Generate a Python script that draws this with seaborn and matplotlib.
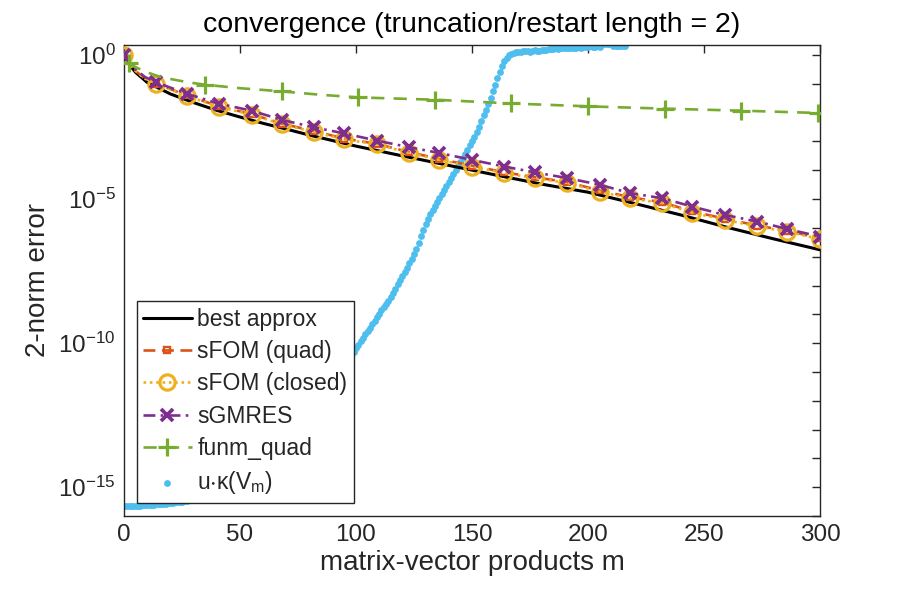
import numpy as np
import pandas as pd
import matplotlib
matplotlib.use("Agg")
import matplotlib.pyplot as plt
import seaborn as sns
from matplotlib.ticker import FixedLocator, FuncFormatter, NullLocator

# ---------------- data (log10 of error) ----------------
best_m = [0, 2, 5, 10, 15, 20, 30, 40, 50, 60, 70, 80, 90, 100, 120, 140, 160,
          180, 200, 220, 240, 260, 280, 300]
best_log = [0.0, -0.3, -0.6, -0.95, -1.15, -1.35, -1.65, -1.92, -2.15, -2.37,
            -2.57, -2.78, -2.97, -3.16, -3.50, -3.83, -4.16, -4.48, -4.76,
            -5.15, -5.55, -5.98, -6.38, -6.76]

sfom_m = [0, 2, 5, 9, 14, 27, 41, 55, 68, 82, 95, 109, 123, 136, 150, 164, 177,
          191, 205, 218, 232, 245, 259, 273, 286, 300]
sfom_closed_log = [0.0, -0.28, -0.55, -0.82, -1.00, -1.42, -1.80, -2.07, -2.40,
                   -2.67, -2.93, -3.10, -3.40, -3.64, -3.87, -4.10, -4.27, -4.44,
                   -4.74, -4.97, -5.14, -5.47, -5.72, -5.95, -6.13, -6.39]
sfom_quad_log = [0.0, -0.28, -0.55, -0.82, -0.99, -1.40, -1.78, -2.05, -2.38,
                 -2.64, -2.90, -3.08, -3.37, -3.61, -3.84, -4.07, -4.24, -4.41,
                 -4.70, -4.93, -5.11, -5.43, -5.68, -5.92, -6.10, -6.36]
sgmres_log = [0.0, -0.25, -0.50, -0.76, -0.95, -1.34, -1.69, -1.93, -2.25,
              -2.51, -2.72, -2.97, -3.20, -3.40, -3.64, -3.87, -4.07, -4.27,
              -4.50, -4.79, -4.97, -5.26, -5.55, -5.78, -6.04, -6.30]

funm_m = [2, 5, 10, 15, 20, 28, 35, 50, 68, 85, 101, 134, 167, 200, 233, 266, 299]
funm_log = [-0.28, -0.42, -0.60, -0.74, -0.83, -0.95, -1.03, -1.15, -1.26, -1.38,
            -1.47, -1.55, -1.68, -1.78, -1.86, -1.93, -2.01]

kappa_log = [
    -15.66, -15.66, -15.65, -15.65, -15.65, -15.64, -15.64, -15.64, -15.63, -15.63,
    -15.62, -15.62, -15.61, -15.61, -15.60, -15.59, -15.59, -15.58, -15.57, -15.56,
    -15.55, -15.54, -15.53, -15.52, -15.51, -15.50, -15.48, -15.47, -15.45, -15.44,
    -15.42, -15.40, -15.38, -15.36, -15.34, -15.32, -15.29, -15.27, -15.24, -15.21,
    -15.18, -15.15, -15.12, -15.08, -15.05, -15.01, -14.97, -14.93, -14.89, -14.84,
    -14.80, -14.75, -14.70, -14.65, -14.59, -14.54, -14.48, -14.42, -14.36, -14.29,
    -14.23, -14.16, -14.09, -14.02, -13.94, -13.87, -13.79, -13.71, -13.62, -13.54,
    -13.50, -13.41, -13.32, -13.22, -13.12, -13.02, -12.92, -12.81, -12.70, -12.62,
    -12.55, -12.44, -12.33, -12.22, -12.10, -11.98, -11.86, -11.74, -11.62, -11.50,
    -11.38, -11.26, -11.14, -11.02, -10.90, -10.78, -10.66, -10.54, -10.42, -10.30,
    -10.18, -10.06, -9.94, -9.82, -9.70, -9.58, -9.46, -9.34, -9.22, -9.10,
    -8.98, -8.86, -8.74, -8.63, -8.52, -8.40, -8.26, -8.11, -7.96, -7.81,
    -7.66, -7.52, -7.38, -7.23, -7.08, -6.92, -6.72, -6.51, -6.29, -6.07,
    -5.88, -5.70, -5.53, -5.38, -5.24, -5.10, -4.96, -4.82, -4.68, -4.54,
    -4.40, -4.26, -4.12, -3.98, -3.84, -3.70, -3.56, -3.42, -3.28, -3.13,
    -2.98, -2.83, -2.68, -2.49, -2.29, -2.09, -1.89, -1.69, -1.48, -1.26,
    -1.04, -0.81, -0.58, -0.38, -0.22, -0.10, 0.00, 0.05, 0.08, 0.10,
    0.12, 0.11, 0.13, 0.15, 0.13, 0.12, 0.14, 0.16, 0.14, 0.13,
    0.17, 0.19, 0.18, 0.20, 0.21, 0.20, 0.23, 0.22, 0.24, 0.23,
    0.24, 0.25, 0.24, 0.25, 0.26, 0.25, 0.27, 0.26, 0.27, 0.28,
    0.27, 0.30, 0.28, 0.29, 0.30, 0.29, 0.37, 0.38, 0.37, 0.38,
    0.37, 0.31, 0.32, 0.31, 0.32, 0.33, 0.32,
]
kappa_m = list(range(len(kappa_log)))

x_ticks = [0, 50, 100, 150, 200, 250, 300]
y_label_exps = [0, -5, -10, -15]

title = "convergence (truncation/restart length = 2)"
xlabel = "matrix-vector products m"
ylabel = "2-norm error"
labels = ["best approx", "sFOM (quad)", "sFOM (closed)", "sGMRES", "funm_quad",
          r"u$\cdot\kappa$(V$_{\rm m}$)"]

# ---------------- style ----------------
sns.set_theme(style="white")
plt.rcParams["font.family"] = ["Liberation Sans", "DejaVu Sans"]
plt.rcParams["mathtext.fontset"] = "custom"
plt.rcParams["mathtext.rm"] = "Liberation Sans"
plt.rcParams["mathtext.it"] = "Liberation Sans:italic"
plt.rcParams["mathtext.default"] = "regular"

C_BLACK = "#000000"
C_RED = "#D95319"
C_YEL = "#EDB120"
C_PUR = "#7E2F8E"
C_GRN = "#77AC30"
C_BLUE = "#4DBEEE"
AX_C = "#262626"

fig = plt.figure(figsize=(9.13, 6.03), dpi=100)
ax = fig.add_axes([0.1358, 0.1443, 0.7623, 0.7811])

def tolin(v):
    return [10.0 ** a for a in v]

lw = 1.9
mk_idx = [0] + list(range(4, len(sfom_m)))
funm_idx = [0, 6, 8, 10, 11, 12, 13, 14, 15, 16]

df_k = pd.DataFrame({"m": kappa_m, "err": tolin(kappa_log)})
sns.scatterplot(data=df_k, x="m", y="err", ax=ax, color=C_BLUE, s=24,
                linewidth=0, label=labels[5], zorder=2)

h_best, = ax.plot(best_m, tolin(best_log), color=C_BLACK, linewidth=lw + 0.3,
                  zorder=3)
h_quad, = ax.plot(sfom_m, tolin(sfom_quad_log), color=C_RED, linewidth=lw,
                  linestyle=(0, (4.5, 2.5)), marker="s", markersize=5,
                  markeredgewidth=1.7, markerfacecolor="none",
                  markeredgecolor=C_RED, markevery=mk_idx, zorder=4)
h_clo, = ax.plot(sfom_m, tolin(sfom_closed_log), color=C_YEL, linewidth=lw,
                 linestyle=(0, (1, 1.4)), marker="o", markersize=11,
                 markeredgewidth=2.3, markerfacecolor="none",
                 markeredgecolor=C_YEL, markevery=mk_idx, zorder=5)
h_gm, = ax.plot(sfom_m, tolin(sgmres_log), color=C_PUR, linewidth=lw,
                linestyle=(0, (4.5, 2, 1, 2)), marker="x", markersize=9,
                markeredgewidth=2.7, markeredgecolor=C_PUR, markevery=mk_idx,
                zorder=6)
h_fq, = ax.plot(funm_m, tolin(funm_log), color=C_GRN, linewidth=lw,
                linestyle=(0, (5, 3.5)), marker="+", markersize=13,
                markeredgewidth=2.3, markeredgecolor=C_GRN, markevery=funm_idx,
                zorder=7)

ax.set_yscale("log")
ax.set_xlim(0, 300)
ax.set_ylim(1e-16, 10 ** 0.35)

ax.xaxis.set_major_locator(FixedLocator(x_ticks))
ax.xaxis.set_minor_locator(NullLocator())
ax.yaxis.set_major_locator(FixedLocator([10.0 ** k for k in range(-16, 1)]))
ax.yaxis.set_minor_locator(NullLocator())

def yfmt(v, pos):
    e = int(round(np.log10(v)))
    if e in y_label_exps:
        return r"$10^{%d}$" % e
    return ""
ax.yaxis.set_major_formatter(FuncFormatter(yfmt))

for s in ax.spines.values():
    s.set_color(AX_C)
    s.set_linewidth(1.0)
    s.set_visible(True)
ax.tick_params(which="both", direction="in", top=True, right=True, length=6,
               width=1.0, color=AX_C, labelsize=17.5, labelcolor=AX_C, pad=6)

ax.set_title(title, fontsize=20.5, color="#000000", pad=9)
ax.set_xlabel(xlabel, fontsize=20, color=AX_C, labelpad=3)
ax.set_ylabel(ylabel, fontsize=20, color=AX_C, labelpad=5)

h_k = ax.collections[0]
handles = [h_best, h_quad, h_clo, h_gm, h_fq, h_k]
old = ax.get_legend()
if old is not None:
    old.remove()
leg = ax.legend(handles, labels, loc="lower left",
                bbox_to_anchor=(0.018, 0.028), borderaxespad=0, fontsize=16.5,
                frameon=True, fancybox=False, framealpha=1, edgecolor=AX_C,
                handlelength=2.1, handletextpad=0.25, labelspacing=0.4,
                borderpad=0.3, markerscale=1.0)
leg.get_frame().set_linewidth(1.0)
leg.set_zorder(10)

fig.savefig("out.png", dpi=100)
